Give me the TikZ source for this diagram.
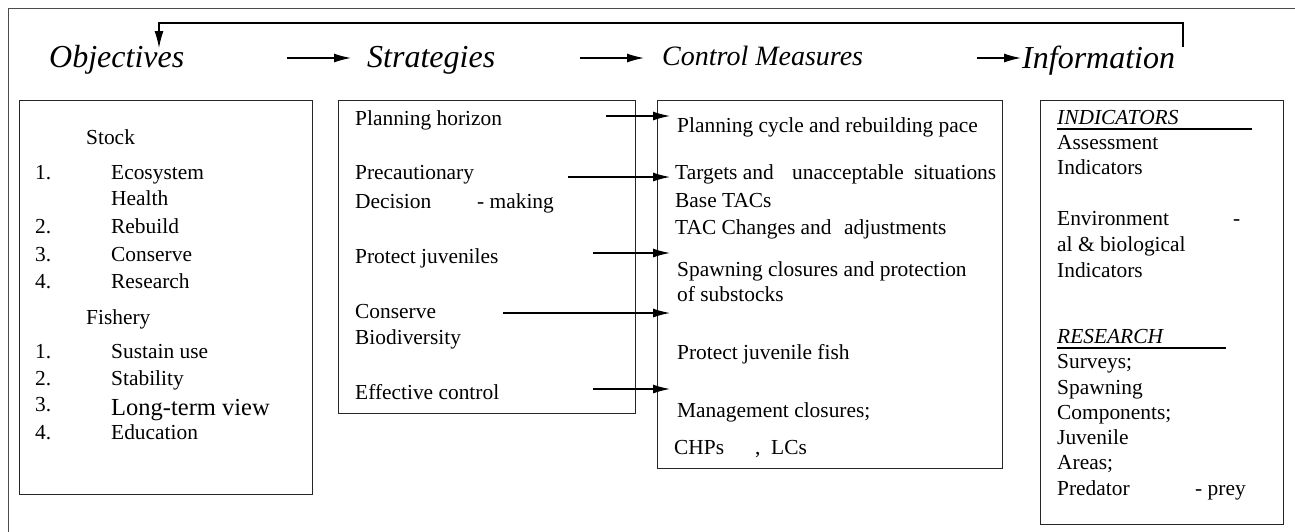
\documentclass[tikz,border=0pt]{standalone}
\usepackage{fontspec}
\setmainfont{Liberation Serif}
\usetikzlibrary{arrows.meta}
\begin{document}
\begin{tikzpicture}[x=1pt,y=-1pt,
  txt/.style={anchor=base west, inner sep=0pt, font=\fontsize{21.4}{25}\selectfont},
  bigtxt/.style={anchor=base west, inner sep=0pt, font=\fontsize{24.5}{28}\selectfont},
  ittxt/.style={anchor=base west, inner sep=0pt, font=\fontsize{21.4}{25}\selectfont\itshape},
  ttl/.style={anchor=base west, inner sep=0pt, font=\fontsize{32}{36}\selectfont\itshape},
  ttlsmall/.style={anchor=base west, inner sep=0pt, font=\fontsize{28}{32}\selectfont\itshape},
  box/.style={draw=black!85, line width=1.4pt, anchor=north west, inner sep=0pt},
  arr/.style={line width=1.3pt, -{Latex[length=17pt,width=9pt]}},
  frame/.style={draw=black!70, line width=1.8pt},
  uline/.style={line width=1.5pt}
]
\useasboundingbox (0,0) rectangle (1295,531);
% outer frame
\draw[frame] (1296,8.5) -- (8.5,8.5) -- (8.5,532);

% titles
\node[ttl] (tobj) at (49,67) {Objectives};
\node[ttl] (tstr) at (367,67) {Strategies};
\node[ttlsmall] (tctl) at (662,65) {Control Measures};
\node[ttl] (tinf) at (1022,68) {Information};

% title arrows
\coordinate (t1s) at (287,58); \coordinate (t1e) at (351,58);
\coordinate (t2s) at (580,58); \coordinate (t2e) at (644,58);
\coordinate (t3s) at (977,58); \coordinate (t3e) at (1021,58);
\draw[arr] (t1s) -- (t1e);
\draw[arr] (t2s) -- (t2e);
\draw[arr] (t3s) -- (t3e);

% feedback loop
\coordinate (fbR) at (1183,47);
\coordinate (fbL) at (159,48);
\draw[arr, line width=1.2pt] (fbR) -- ++(0,-24) -| (fbL);

% boxes
\node[box, minimum width=293pt, minimum height=394pt] (objbox) at (19,100) {};
\node[box, minimum width=297pt, minimum height=313pt] (strbox) at (338,100) {};
\node[box, minimum width=345pt, minimum height=368pt] (ctlbox) at (657,100) {};
\node[box, minimum width=243pt, minimum height=424pt] (infbox) at (1040,100) {};

% objectives content
\node[txt] (o0) at (86,144) {Stock};
\node[txt] (on1) at (35,179) {1.};
\node[txt] (o1) at (111,179) {Ecosystem};
\node[txt] (o1b) at (111,205) {Health};
\node[txt] (on2) at (35,233) {2.};
\node[txt] (o2) at (111,233) {Rebuild};
\node[txt] (on3) at (35,261) {3.};
\node[txt] (o3) at (111,261) {Conserve};
\node[txt] (on4) at (35,288) {4.};
\node[txt] (o4) at (111,288) {Research};
\node[txt] (o5) at (86,324) {Fishery};
\node[txt] (on6) at (35,358) {1.};
\node[txt] (o6) at (111,358) {Sustain use};
\node[txt] (on7) at (35,385) {2.};
\node[txt] (o7) at (111,385) {Stability};
\node[txt] (on8) at (35,411) {3.};
\node[bigtxt] (o8) at (111,415) {Long-term view};
\node[txt] (on9) at (35,439) {4.};
\node[txt] (o9) at (111,439) {Education};

% strategies content
\node[txt] (s1) at (355,125) {Planning horizon};
\node[txt] (s2) at (355,179) {Precautionary};
\node[txt] (s2b) at (355,208) {Decision};
\node[txt] (s2c) at (477,208) {- making};
\node[txt] (s3) at (355,263) {Protect juveniles};
\node[txt] (s4) at (355,318) {Conserve};
\node[txt] (s4b) at (355,344) {Biodiversity};
\node[txt] (s5) at (355,399) {Effective control};

% control measures content
\node[txt] (c1) at (677,132) {Planning cycle and rebuilding pace};
\node[txt] (c2) at (675,179) {Targets and};
\node[txt] (c2b) at (792,179) {unacceptable};
\node[txt] (c2c) at (914,179) {situations};
\node[txt] (c3) at (675,207) {Base TACs};
\node[txt] (c4) at (675,234) {TAC Changes and};
\node[txt] (c4b) at (844,234) {adjustments};
\node[txt] (c5) at (677,276) {Spawning closures and protection};
\node[txt] (c5b) at (677,301) {of substocks};
\node[txt] (c6) at (677,359) {Protect juvenile fish};
\node[txt] (c7) at (677,417) {Management closures;};
\node[txt] (c8) at (674,454) {CHPs};
\node[txt] (c8b) at (755,454) {,};
\node[txt] (c8c) at (771,454) {LCs};

% strategy -> control arrows
\coordinate (a1s) at (606,116); \coordinate (a1e) at (670,116);
\coordinate (a2s) at (568,177); \coordinate (a2e) at (670,177);
\coordinate (a3s) at (593,253); \coordinate (a3e) at (670,253);
\coordinate (a4s) at (503,313); \coordinate (a4e) at (670,313);
\coordinate (a5s) at (593,389); \coordinate (a5e) at (670,389);
\draw[arr] (a1s) -- (a1e);
\draw[arr] (a2s) -- (a2e);
\draw[arr] (a3s) -- (a3e);
\draw[arr] (a4s) -- (a4e);
\draw[arr] (a5s) -- (a5e);

% information content
\node[ittxt] (i0) at (1057,124) {INDICATORS};
\coordinate (u1s) at (1057,129); \coordinate (u1e) at (1252,129);
\draw[uline] (u1s) -- (u1e);
\node[txt] (i1) at (1057,149) {Assessment};
\node[txt] (i2) at (1057,174) {Indicators};
\node[txt] (i3) at (1057,225) {Environment};
\node[txt] (i3b) at (1233,225) {-};
\node[txt] (i4) at (1057,251) {al \& biological};
\node[txt] (i5) at (1057,277) {Indicators};
\node[ittxt] (r0) at (1057,343) {RESEARCH};
\coordinate (u2s) at (1057,348); \coordinate (u2e) at (1226,348);
\draw[uline] (u2s) -- (u2e);
\node[txt] (r1) at (1057,368) {Surveys;};
\node[txt] (r2) at (1057,394) {Spawning};
\node[txt] (r3) at (1057,419) {Components;};
\node[txt] (r4) at (1057,444) {Juvenile};
\node[txt] (r5) at (1057,469) {Areas;};
\node[txt] (r6) at (1057,495) {Predator};
\node[txt] (r6b) at (1195,495) {- prey};
\end{tikzpicture}
\end{document}
